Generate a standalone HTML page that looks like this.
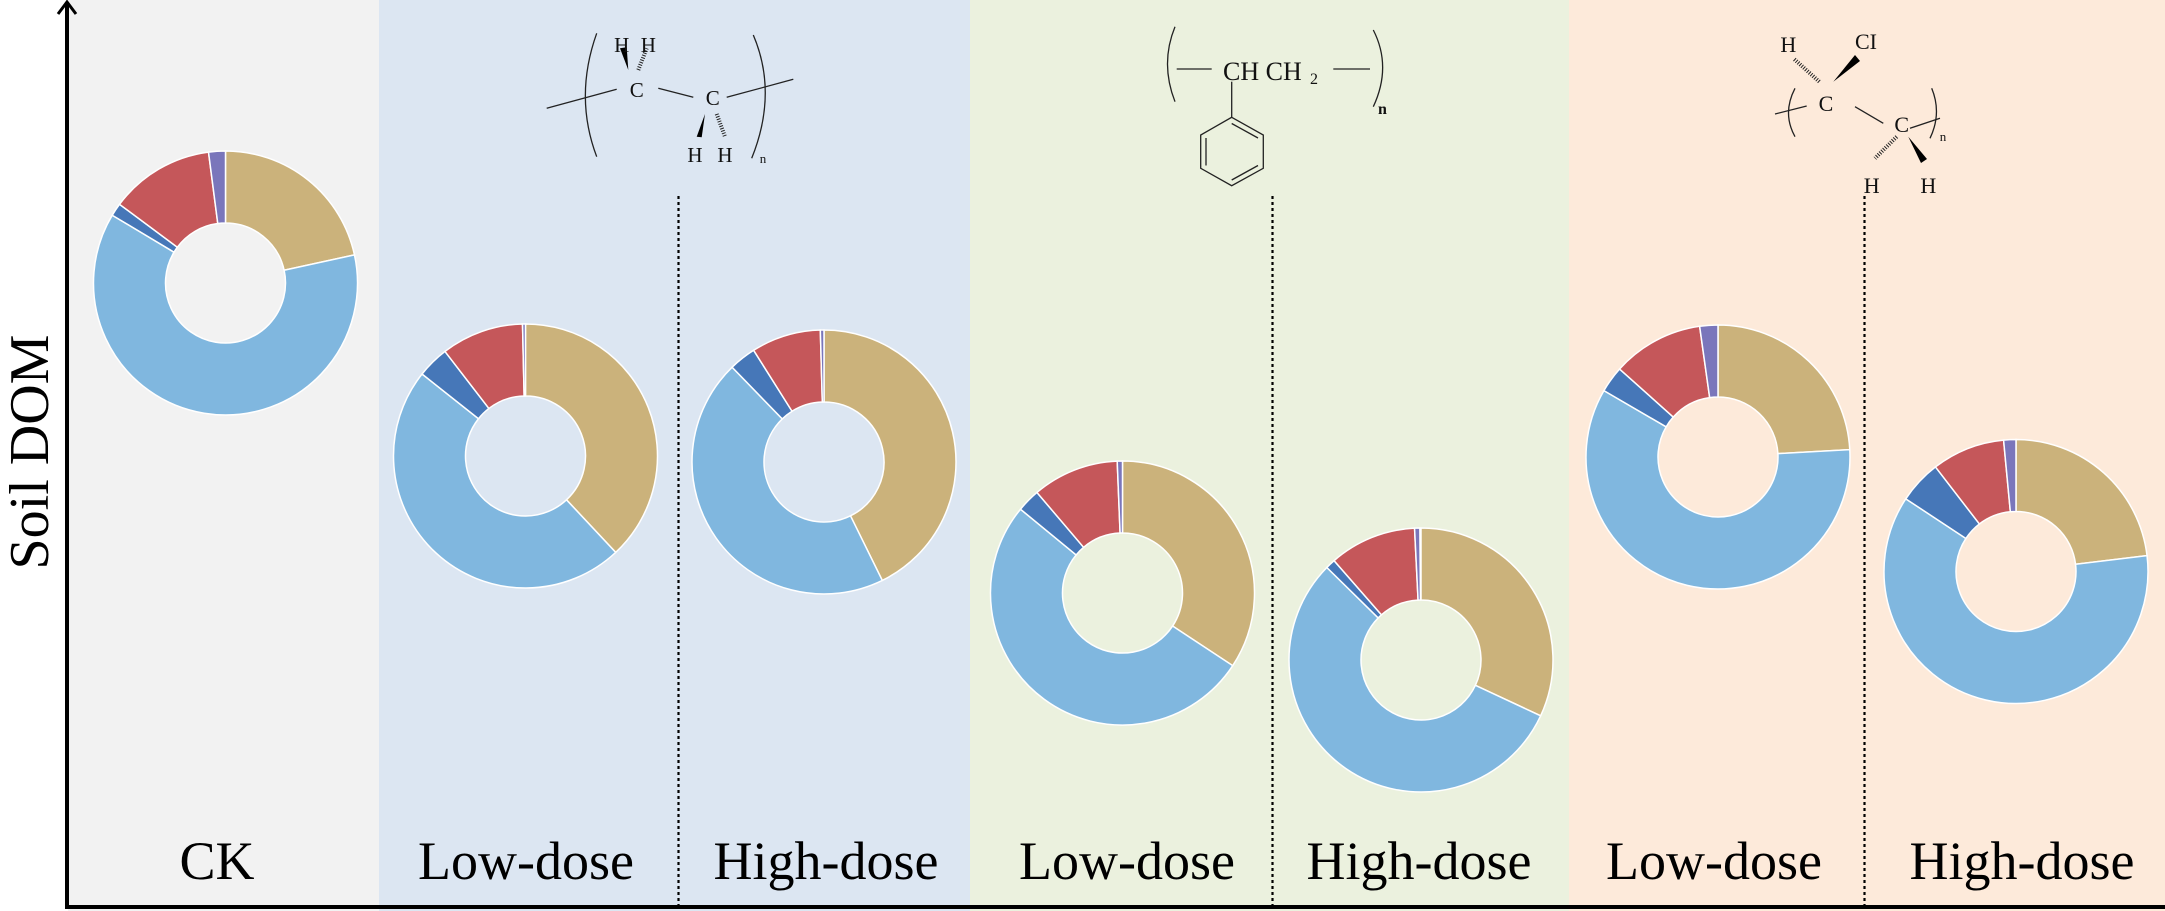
<!DOCTYPE html>
<html><head><meta charset="utf-8"><style>
html,body{margin:0;padding:0;background:#fff}
svg{display:block}
text{font-family:"Liberation Serif",serif}
</style></head><body>
<svg id="s" width="2165" height="911" viewBox="0 0 2165 911" xmlns="http://www.w3.org/2000/svg">
<rect x="68" y="0" width="311" height="911" fill="#f2f2f2"/>
<rect x="379" y="0" width="591" height="911" fill="#dce6f2"/>
<rect x="970" y="0" width="599" height="911" fill="#ebf1de"/>
<rect x="1569" y="0" width="596" height="911" fill="#fdeada"/>
<g stroke="#000" stroke-width="2.2" stroke-dasharray="3,3">
<line x1="678.5" y1="196" x2="678.5" y2="907"/>
<line x1="1272.5" y1="196" x2="1272.5" y2="907"/>
<line x1="1864.5" y1="196" x2="1864.5" y2="907"/>
</g>
<g id="donuts"></g>
<g font-size="54" text-anchor="middle" fill="#000">
<text x="217" y="879">CK</text>
<text x="526" y="879">Low-dose</text>
<text x="826" y="879">High-dose</text>
<text x="1127" y="879">Low-dose</text>
<text x="1419" y="879">High-dose</text>
<text x="1714" y="879">Low-dose</text>
<text x="2022" y="879">High-dose</text>
</g>
<text font-size="56" text-anchor="middle" transform="translate(48,452) rotate(-90)">Soil DOM</text>
<g stroke="#000" stroke-width="4" fill="none">
<line x1="67" y1="2" x2="67" y2="909"/>
<line x1="65" y1="907" x2="2165" y2="907"/>
<polyline points="58,14 67,2 76,14" stroke-width="3"/>
</g>
<!-- PE -->
<g stroke="#222" stroke-width="1.3" fill="none">
<line x1="546.7" y1="108.3" x2="616.7" y2="89.3"/>
<path d="M596.7,33.3 Q574,96.7 596.7,156.7"/>
<line x1="658.3" y1="88.3" x2="693.3" y2="97.3"/>
<line x1="726.7" y1="97.3" x2="793.3" y2="79.3"/>
<path d="M753.3,35 Q778,93 751.7,158.3"/>
<line x1="638.3" y1="70" x2="646.7" y2="48.3" stroke-width="4" stroke-dasharray="1,1.5"/>
<line x1="716.7" y1="114" x2="725" y2="136.7" stroke-width="4" stroke-dasharray="1,1.5"/>
</g>
<g fill="#000">
<polygon points="628.3,70 620,48.3 626.7,47.3"/>
<polygon points="705,114 696.7,136.7 701.7,137.3"/>
</g>
<g font-size="21" text-anchor="middle" fill="#111">
<text x="621.7" y="52">H</text><text x="648.3" y="52">H</text>
<text x="636.7" y="97">C</text><text x="712.7" y="105">C</text>
<text x="695" y="162">H</text><text x="725" y="162">H</text>
<text x="763" y="163" font-family="Liberation Sans" font-size="13">n</text>
</g>
<!-- PS -->
<g stroke="#222" stroke-width="1.3" fill="none">
<path d="M1175,26.7 Q1160,63.3 1175,101.7"/>
<line x1="1176.7" y1="69" x2="1211.7" y2="69"/>
<line x1="1333.3" y1="69" x2="1370" y2="69"/>
<path d="M1373.3,30 Q1392,66.7 1373.3,106.7"/>
<line x1="1231.7" y1="81.7" x2="1231.7" y2="117.3"/>
<polygon points="1231.7,117.3 1263.3,135 1263.3,168.3 1231.7,185.7 1200.7,168.3 1200.7,135"/>
<line x1="1231.7" y1="123.5" x2="1258" y2="138"/>
<line x1="1206" y1="138" x2="1206" y2="165.5"/>
<line x1="1231.7" y1="180" x2="1258" y2="165.5"/>
</g>
<text x="1223" y="80" font-size="26" fill="#111">CH CH</text>
<text x="1310" y="84" font-size="16" fill="#111">2</text>
<text x="1378" y="114" font-size="16" font-weight="bold" font-family="Liberation Sans" fill="#111">n</text>
<!-- PVC -->
<g stroke="#222" stroke-width="1.3" fill="none">
<line x1="1775" y1="114" x2="1806.7" y2="106"/>
<path d="M1795,88.3 Q1782,113.3 1795,136.7"/>
<line x1="1855" y1="106.7" x2="1883.3" y2="123.3"/>
<line x1="1910" y1="128.3" x2="1940" y2="118.3"/>
<path d="M1931.7,88.3 Q1942,113.3 1930,138.3"/>
<line x1="1819.3" y1="81.7" x2="1793.3" y2="58.3" stroke-width="4" stroke-dasharray="1,1.5"/>
<line x1="1896.7" y1="136.7" x2="1875" y2="158.3" stroke-width="4" stroke-dasharray="1,1.5"/>
</g>
<g fill="#000">
<polygon points="1833.3,81.7 1855,55 1860,61"/>
<polygon points="1908.3,136.7 1921,163 1927,159"/>
</g>
<g font-size="22" text-anchor="middle" fill="#111">
<text x="1788.3" y="52">H</text><text x="1866" y="49">CI</text>
<text x="1826" y="111">C</text><text x="1901.7" y="132">C</text>
<text x="1871.7" y="193">H</text><text x="1928.3" y="193">H</text>
<text x="1943" y="141" font-family="Liberation Sans" font-size="13">n</text>
</g>
</svg>
<script>
var C=["#cbb27b","#80b7df","#4677b8","#c5575a","#7a76bb"];
var D=[
[225.5,283,[0,77.7,300.9,306.6,352.6,360]],
[525.5,456,[0,136.9,308.4,322.4,358.7,360]],
[824,462,[0,153.8,315.9,327.8,358.4,360]],
[1122.5,593,[0,123.4,309.4,319.6,357.7,360]],
[1421,660,[0,115,314.5,318.8,357.2,359.5]],
[1718,457,[0,86.8,300.2,311.8,352,360]],
[2016,571.5,[0,83.1,303.4,322.4,354.6,360]]];
var R=132,r=60,g=document.getElementById("donuts"),h="";
function p(cx,cy,rad,a){a=a*Math.PI/180;return (cx+rad*Math.sin(a)).toFixed(2)+","+(cy-rad*Math.cos(a)).toFixed(2);}
D.forEach(function(d){var cx=d[0],cy=d[1],a=d[2];
for(var i=0;i<5;i++){var s=a[i],e=a[i+1];if(e-s<=0)continue;var L=(e-s)>180?1:0;
h+='<path d="M'+p(cx,cy,R,s)+' A'+R+','+R+' 0 '+L+' 1 '+p(cx,cy,R,e)+' L'+p(cx,cy,r,e)+' A'+r+','+r+' 0 '+L+' 0 '+p(cx,cy,r,s)+' Z" fill="'+C[i]+'" stroke="#fff" stroke-width="1.5"/>';}});
g.innerHTML=h;
</script>
</body></html>
